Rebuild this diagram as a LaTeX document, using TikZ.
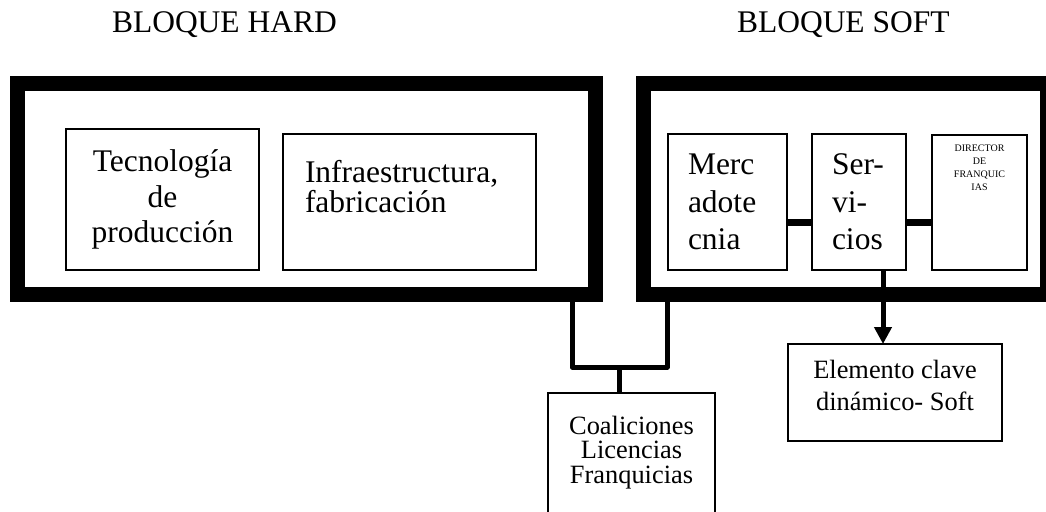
\documentclass[tikz,border=0pt]{standalone}
\usepackage{fontspec}
\setmainfont{Liberation Serif}
\usetikzlibrary{arrows.meta}
\begin{document}
\begin{tikzpicture}[x=1pt,y=-1pt,
  frame/.style={draw, line width=15pt, inner sep=0pt, outer sep=0pt},
  box/.style={draw, line width=2pt, inner sep=0pt, outer sep=0pt},
  txt/.style={inner sep=0pt, outer sep=0pt},
  big/.style={font=\fontsize{31.5pt}{37.5pt}\selectfont},
  link/.style={line width=5pt, line join=round},
  bar/.style={line width=7pt}]
\useasboundingbox (0,0) rectangle (1046,511);

% titles
\node[txt, big, anchor=base west] (hardtitle) at (112,33) {BLOQUE HARD};
\node[txt, big, anchor=base west] (softtitle) at (737,33) {BLOQUE SOFT};

% the two heavy frames
\node[frame, minimum width=578pt, minimum height=211pt] (hard) at (306.5,189) {};
\node[frame, minimum width=404pt, minimum height=211pt] (soft) at (845.5,189) {};

% hard block contents
\node[box, minimum width=193pt, minimum height=141pt, align=center,
      font=\fontsize{31.5pt}{35.5pt}\selectfont] (tec) at (162.5,199.5)
      {Tecnología\\de\\producción};
\node[box, minimum width=253pt, minimum height=136pt] (inf) at (409.5,202) {};
\node[txt, anchor=north west, align=left,
      font=\fontsize{31.5pt}{30pt}\selectfont] (inftxt) at (305,160.5)
      {Infraestructura,\\fabricación};

% soft block contents
\node[box, big, minimum width=119pt, minimum height=136pt, text width=79pt,
      inner xsep=20pt, align=left] (merc) at (727.5,202) {Merc\\adote\\cnia};
\node[box, big, minimum width=94pt, minimum height=136pt, text width=54pt,
      inner xsep=20pt, align=left] (serv) at (859,202) {Ser-\\vi-\\cios};
\node[box, minimum width=95pt, minimum height=135pt] (dir) at (979.5,202.5) {};
\node[txt, anchor=north, align=center, font=\fontsize{10pt}{13pt}\selectfont]
      (dirtxt) at (979.5,145) {DIRECTOR\\DE\\FRANQUIC\\IAS};

% lower boxes
\node[box, minimum width=214pt, minimum height=97pt] (elem) at (895,392.5) {};
\node[txt, anchor=north, align=center, font=\fontsize{26.4pt}{32pt}\selectfont]
      (elemtxt) at (895,360) {Elemento clave\\dinámico- Soft};
\node[box, minimum width=167pt, minimum height=127pt] (coal) at (631.5,456.5) {};
\node[txt, anchor=north, align=center, font=\fontsize{26.4pt}{24.5pt}\selectfont]
      (coaltxt) at (631.5,416) {Coaliciones\\Licencias\\Franquicias};

% connectors
\coordinate (jn) at (619,367);
\coordinate (lft) at (572,0);
\coordinate (rgt) at (667,0);
\draw[link] (hard.south -| lft) |- (jn) -| (soft.south -| rgt);
\draw[link] (jn) -- (coal.north -| jn);

\coordinate (lk) at (0,222);
\draw[bar] (merc.east |- lk) -- (serv.west |- lk);
\draw[bar] (serv.east |- lk) -- (dir.west |- lk);

\coordinate (sx) at (883,0);
\draw[link, -{Triangle[length=17pt,width=17pt]}] (serv.south -| sx) -- (elem.north -| sx);
\end{tikzpicture}
\end{document}
